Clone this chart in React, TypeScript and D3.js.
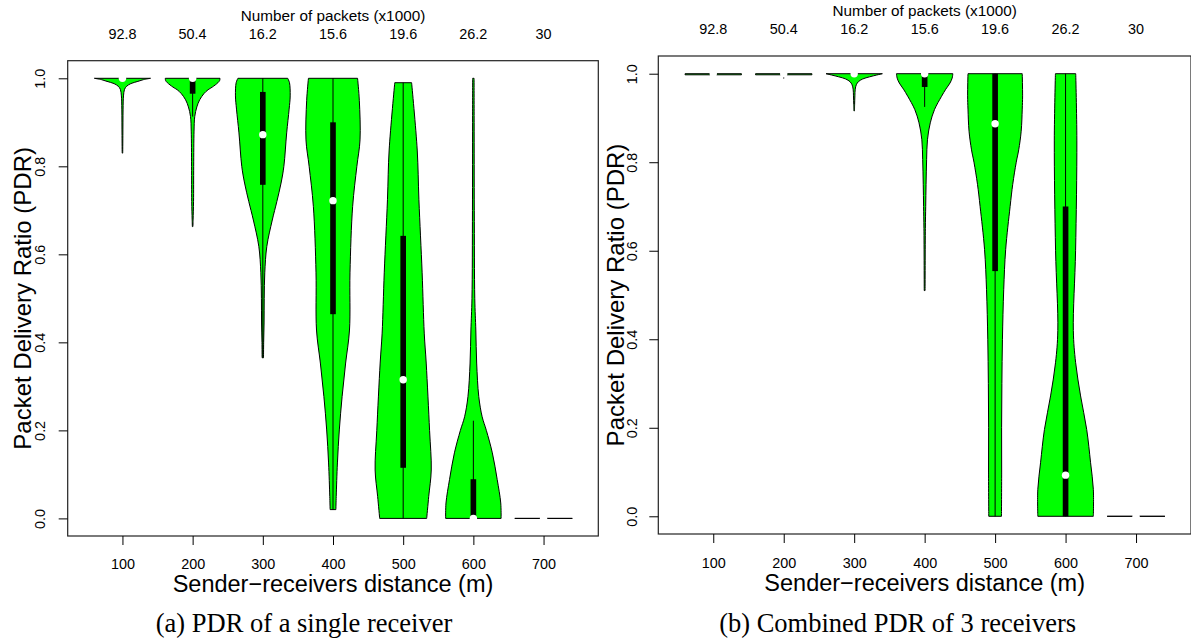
import React, { useEffect, useRef } from "react";
import * as d3 from "d3";

// distances (m) on the x axis and packet counts shown on top
const distances = [100, 200, 300, 400, 500, 600, 700];
const packetCounts = ["92.8", "50.4", "16.2", "15.6", "19.6", "26.2", "30"];
const yTicks = [0, 0.2, 0.4, 0.6, 0.8, 1.0];

// violin outlines: [PDR, half width in metres]
const shapesSingle: [number, number][][] = [
  [[1.0, 40], [0.997, 30], [0.993, 22], [0.988, 12], [0.982, 6], [0.975, 3], [0.96, 1.5], [0.93, 0.9], [0.87, 0.6], [0.83, 0.4]],
  [[1.0, 39], [0.995, 38.5], [0.99, 36], [0.98, 28], [0.974, 22], [0.965, 16], [0.951, 10], [0.935, 6], [0.913, 3], [0.88, 2], [0.8, 1.5], [0.72, 1.3], [0.68, 0.7], [0.663, 0.4]],
  [[1.0, 35.5], [0.99, 38], [0.96, 39], [0.93, 37.5], [0.876, 34], [0.8, 30], [0.762, 26], [0.72, 20], [0.678, 13.5], [0.618, 5.7], [0.558, 2.8], [0.5, 2], [0.444, 1.8], [0.4, 1.2], [0.365, 1]],
  [[1.0, 35], [0.95, 37.5], [0.86, 38.5], [0.8, 34], [0.709, 28], [0.558, 24.2], [0.428, 23.5], [0.353, 18], [0.277, 13], [0.201, 9], [0.126, 6.3], [0.05, 4.6], [0.02, 4.1]],
  [[0.99, 12], [0.837, 20], [0.724, 22.4], [0.558, 27], [0.421, 30], [0.353, 32.8], [0.2, 37.6], [0.11, 40], [0.05, 36.4], [0.0, 33.5]],
  [[1.0, 1], [0.9, 1.1], [0.7, 1.3], [0.5, 2], [0.428, 3.5], [0.353, 4.7], [0.277, 7.7], [0.231, 12.5], [0.2, 18.5], [0.149, 27], [0.088, 34], [0.035, 39], [0.0, 39.5]],
  [[0.0, 41], [0.0, 41]],
];

// [q1, median, q3, lower whisker, upper whisker]
const boxesSingle = [
  [1, 1, 1, 1, 1],
  [0.965, 1, 1, 0.913, 1],
  [0.758, 0.872, 0.969, 0.365, 1],
  [0.464, 0.722, 0.9, 0.02, 1],
  [0.115, 0.315, 0.642, 0, 0.99],
  [0, 0, 0.089, 0, 0.222],
  [0, 0, 0, 0, 0],
];

const shapesCombined: [number, number][][] = [
  [[1.0, 40], [0.9975, 40]],
  [[1.0, 40], [0.9975, 40]],
  [[1.0, 40], [0.997, 32], [0.993, 22], [0.988, 12], [0.982, 6], [0.975, 3], [0.965, 1.5], [0.95, 1], [0.93, 0.6], [0.916, 0.4]],
  [[1.0, 40], [0.99, 39], [0.979, 36], [0.965, 30], [0.949, 24], [0.919, 14], [0.889, 8], [0.851, 4], [0.806, 2.8], [0.75, 2], [0.7, 1.5], [0.65, 1], [0.51, 0.6]],
  [[1.0, 38.5], [0.95, 39], [0.92, 38.5], [0.87, 37], [0.828, 33.5], [0.8, 30], [0.75, 25], [0.7, 21.3], [0.603, 15], [0.512, 12.2], [0.4, 10.4], [0.3, 9.6], [0.2, 9.2], [0.1, 9.3], [0.0, 9]],
  [[1.0, 14.4], [0.85, 16], [0.6, 14.2], [0.42, 11], [0.348, 14.2], [0.272, 21.3], [0.196, 30], [0.121, 35.5], [0.061, 39.4], [0.0, 39.4]],
  [[0.0, 41], [0.0, 41]],
];

const boxesCombined = [
  [1, 1, 1, 1, 1],
  [1, 1, 1, 0.989, 1],
  [1, 1, 1, 1, 1],
  [0.97, 1, 1, 0.925, 1],
  [0.554, 0.887, 1, 0, 1],
  [0, 0.093, 0.7, 0, 1],
  [0, 0, 0, 0, 0],
];

const panels = [
  {
    shapes: shapesSingle, boxes: boxesSingle,
    left: 67.7, right: 598.3, top: 60.7, bottom: 536,
    titleY: 20.5, valuesY: 38.8, xTickY: 32.5, xLabelY: 592, yTickX: 22.7, yLabelX: 30.5,
    caption: "(a) PDR of a single receiver", captionX: 304,
  },
  {
    shapes: shapesCombined, boxes: boxesCombined,
    left: 658.3, right: 1191, top: 56, bottom: 534,
    titleY: 16.2, valuesY: 34.3, xTickY: 33.5, xLabelY: 591, yTickX: 21.6, yLabelX: 624,
    caption: "(b) Combined PDR of 3 receivers", captionX: 897.6,
  },
];

const sans = "'Liberation Sans', Arial, Helvetica, sans-serif";
const serif = "'Liberation Serif', 'Times New Roman', serif";

const App = () => {
  const svgRef = useRef<SVGSVGElement>(null);

  useEffect(() => {
    const svg = d3.select(svgRef.current);
    svg.selectAll("*").remove();

    panels.forEach(p => {
      const x = d3.scaleLinear().domain([22, 778]).range([p.left, p.right]);
      const y = d3.scaleLinear().domain([-0.04, 1.04]).range([p.bottom, p.top]);
      const g = svg.append("g");

      // violins, whiskers and boxes
      distances.forEach((d, i) => {
        const area = d3.area<[number, number]>()
          .curve(d3.curveCatmullRom.alpha(0.5))
          .y(v => y(v[0]))
          .x0(v => x(d - v[1]))
          .x1(v => x(d + v[1]));
        g.append("path")
          .attr("d", area(p.shapes[i]))
          .attr("fill", "#00ff00")
          .attr("stroke", "#000")
          .attr("stroke-width", 1);

        const [q1, , q3, lo, hi] = p.boxes[i];
        if (hi > lo) {
          g.append("line")
            .attr("x1", x(d)).attr("x2", x(d))
            .attr("y1", y(lo)).attr("y2", y(hi))
            .attr("stroke", "#000").attr("stroke-width", 1);
        }
        if (q3 > q1) {
          g.append("rect")
            .attr("x", x(d - 4))
            .attr("width", x(d + 4) - x(d - 4))
            .attr("y", y(q3))
            .attr("height", y(q1) - y(q3))
            .attr("fill", "#000");
        }
      });

      // medians
      g.selectAll("circle.med")
        .data(distances)
        .enter()
        .append("circle")
        .attr("cx", d => x(d))
        .attr("cy", (d, i) => y(p.boxes[i][1]))
        .attr("r", 3.7)
        .attr("fill", "#fff");

      // frame
      g.append("rect")
        .attr("x", p.left).attr("y", p.top)
        .attr("width", p.right - p.left).attr("height", p.bottom - p.top)
        .attr("fill", "none").attr("stroke", "#222").attr("stroke-width", 1.2);

      // Y axis
      const ya = g.append("g")
        .attr("transform", `translate(${p.left},0)`)
        .call(d3.axisLeft(y).tickValues(yTicks).tickSize(9).tickFormat(d3.format(".1f")));
      ya.select(".domain").remove();
      ya.selectAll("line").attr("stroke", "#000");
      ya.selectAll("text")
        .attr("transform", "rotate(-90)")
        .attr("x", 0).attr("y", -p.yTickX).attr("dy", 0)
        .attr("text-anchor", "middle")
        .attr("fill", "#000")
        .style("font-family", sans).style("font-size", "14.4px");

      // X axis
      const xa = g.append("g")
        .attr("transform", `translate(0,${p.bottom})`)
        .call(d3.axisBottom(x).tickValues(distances).tickSize(9));
      xa.select(".domain").remove();
      xa.selectAll("line").attr("stroke", "#000");
      xa.selectAll("text")
        .attr("y", p.xTickY).attr("dy", 0)
        .attr("fill", "#000")
        .style("font-family", sans).style("font-size", "14.4px");

      // top: packet counts
      g.selectAll("text.cnt")
        .data(packetCounts)
        .enter()
        .append("text")
        .attr("x", (c, i) => x(distances[i]))
        .attr("y", p.valuesY)
        .attr("text-anchor", "middle")
        .style("font-family", sans).style("font-size", "14.4px")
        .text(c => c);

      g.append("text")
        .attr("x", x(400)).attr("y", p.titleY)
        .attr("text-anchor", "middle")
        .style("font-family", sans).style("font-size", "15.3px")
        .text("Number of packets (x1000)");

      // axis titles
      g.append("text")
        .attr("x", x(400)).attr("y", p.xLabelY)
        .attr("text-anchor", "middle")
        .style("font-family", sans).style("font-size", "23.5px")
        .text("Sender\u2212receivers distance (m)");

      g.append("text")
        .attr("transform", `translate(${p.yLabelX},${(p.top + p.bottom) / 2}) rotate(-90)`)
        .attr("text-anchor", "middle")
        .style("font-family", sans).style("font-size", "24px")
        .text("Packet Delivery Ratio (PDR)");

      // caption
      g.append("text")
        .attr("x", p.captionX).attr("y", 632)
        .attr("text-anchor", "middle")
        .style("font-family", serif).style("font-size", "26.5px")
        .text(p.caption);
    });
  }, []);

  return (
    <svg
      ref={svgRef}
      width={1191}
      height={638}
      style={{ position: "absolute", left: 0, top: 0, background: "#fff" }}
    />
  );
};

export default App;
